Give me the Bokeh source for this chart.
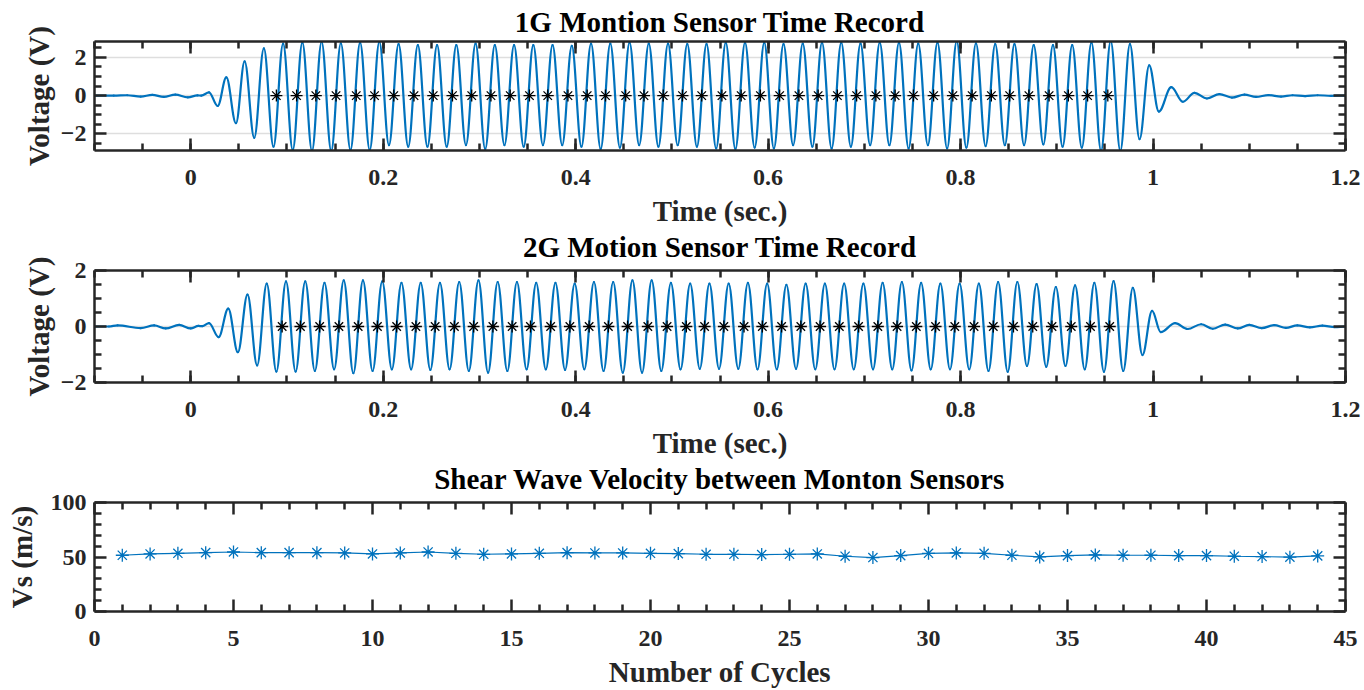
import numpy as np
from bokeh.plotting import figure
from bokeh.layouts import column
from bokeh.models import ColumnDataSource, FixedTicker, LinearAxis, Range1d, Title
from bokeh.embed import file_html
from bokeh.resources import INLINE

# ------------------------------------------------------------------ data
title_1 = "1G Montion Sensor Time Record"
title_2 = "2G Motion Sensor Time Record"
title_3 = "Shear Wave Velocity between Monton Sensors"
time_label = "Time (sec.)"
volt_label = "Voltage (V)"
cycles_label = "Number of Cycles"
vs_label = "Vs (m/s)"

time_ticks = [0, 0.2, 0.4, 0.6, 0.8, 1, 1.2]
time_tick_labels = ["0", "0.2", "0.4", "0.6", "0.8", "1", "1.2"]
volt1_ticks = [-2, 0, 2]
volt2_ticks = [-2, 0, 2]
cycle_ticks = [0, 5, 10, 15, 20, 25, 30, 35, 40, 45]
vs_ticks = [0, 50, 100]

# Sensor 1 (1G): local extrema of the record (time s, voltage V)
s1_pre_t = [-0.100, -0.080, -0.066, -0.052, -0.040, -0.028, -0.016, -0.003, 0.007, 0.011,
            0.019, 0.028, 0.037, 0.047, 0.056, 0.066, 0.076, 0.086]
s1_pre_v = [0.00, 0.00, 0.02, -0.05, 0.04, -0.07, 0.05, -0.09, 0.01, 0.00,
            0.17, -0.54, 0.95, -1.44, 1.78, -2.20, 2.46, -2.66]
s1_peak_t = [0.096, 0.116, 0.136, 0.156, 0.176, 0.196, 0.216, 0.236, 0.256, 0.276,
             0.296, 0.316, 0.336, 0.356, 0.376, 0.396, 0.416, 0.436, 0.456, 0.476,
             0.496, 0.516, 0.536, 0.556, 0.576, 0.596, 0.616, 0.636, 0.656, 0.676,
             0.696, 0.716, 0.736, 0.756, 0.776, 0.796, 0.816, 0.836, 0.856, 0.876,
             0.896, 0.916, 0.936, 0.956, 0.976]
s1_peak_v = [2.71, 2.76, 2.80, 2.73, 2.76, 2.80, 2.68, 2.63, 2.63, 2.63,
             2.71, 2.63, 2.63, 2.63, 2.63, 2.59, 2.71, 2.71, 2.76, 2.71,
             2.71, 2.68, 2.68, 2.76, 2.76, 2.76, 2.68, 2.71, 2.76, 2.76,
             2.71, 2.76, 2.76, 2.71, 2.76, 2.84, 2.73, 2.68, 2.68, 2.63,
             2.63, 2.63, 2.76, 2.85, 2.68]
s1_trough_t = [0.106, 0.126, 0.146, 0.166, 0.186, 0.206, 0.226, 0.246, 0.266, 0.286,
               0.306, 0.326, 0.346, 0.366, 0.386, 0.406, 0.426, 0.446, 0.466, 0.486,
               0.506, 0.526, 0.546, 0.566, 0.586, 0.606, 0.626, 0.646, 0.666, 0.686,
               0.706, 0.726, 0.746, 0.766, 0.786, 0.806, 0.826, 0.846, 0.866, 0.886,
               0.906, 0.926, 0.946, 0.966]
s1_trough_v = [-2.83, -2.88, -2.88, -2.83, -2.83, -2.58, -2.66, -2.66, -2.66, -2.58,
               -2.78, -2.58, -2.66, -2.58, -2.58, -2.66, -2.78, -2.71, -2.58, -2.66,
               -2.58, -2.66, -2.75, -2.78, -2.71, -2.75, -2.58, -2.66, -2.75, -2.66,
               -2.58, -2.58, -2.75, -2.58, -2.75, -2.71, -2.63, -2.58, -2.58, -2.54,
               -2.66, -2.71, -2.88, -2.88]
s1_tail_t = [0.986, 0.996, 1.006, 1.019, 1.031, 1.043, 1.056, 1.069, 1.082, 1.095,
             1.107, 1.120, 1.133, 1.145, 1.158, 1.171, 1.185, 1.200]
s1_tail_v = [-2.27, 1.58, -0.83, 0.44, -0.32, 0.14, -0.15, 0.08, -0.10, 0.05,
             -0.07, 0.03, -0.05, 0.02, -0.03, 0.02, -0.01, 0.00]
s1_star_t = [0.089, 0.110, 0.130, 0.151, 0.172, 0.191, 0.211, 0.232, 0.252, 0.272,
             0.292, 0.312, 0.332, 0.352, 0.371, 0.392, 0.412, 0.431, 0.452, 0.471,
             0.491, 0.511, 0.531, 0.552, 0.572, 0.592, 0.612, 0.632, 0.652, 0.672,
             0.692, 0.712, 0.732, 0.751, 0.772, 0.792, 0.812, 0.832, 0.851, 0.871,
             0.892, 0.912, 0.932, 0.953]

# Sensor 2 (2G)
s2_pre_t = [-0.100, -0.085, -0.076, -0.052, -0.038, -0.026, -0.012, 0.000, 0.008, 0.012,
            0.019, 0.029, 0.039, 0.049, 0.059, 0.069, 0.079, 0.089]
s2_pre_v = [0.00, 0.00, 0.04, -0.06, 0.04, -0.07, 0.06, -0.07, 0.02, 0.01,
            0.12, -0.38, 0.64, -0.92, 1.14, -1.39, 1.53, -1.61]
s2_peak_t = [0.099, 0.119, 0.139, 0.159, 0.179, 0.199, 0.219, 0.239, 0.259, 0.279,
             0.299, 0.319, 0.339, 0.359, 0.379, 0.399, 0.419, 0.439, 0.459, 0.479,
             0.499, 0.519, 0.539, 0.559, 0.579, 0.599, 0.619, 0.639, 0.659, 0.679,
             0.699, 0.719, 0.739, 0.759, 0.779, 0.799, 0.819, 0.839, 0.859, 0.879,
             0.899, 0.919, 0.939, 0.959, 0.979]
s2_peak_v = [1.61, 1.61, 1.56, 1.65, 1.65, 1.61, 1.56, 1.56, 1.56, 1.59,
             1.65, 1.59, 1.59, 1.56, 1.56, 1.53, 1.59, 1.59, 1.65, 1.65,
             1.56, 1.53, 1.53, 1.53, 1.56, 1.53, 1.49, 1.53, 1.53, 1.53,
             1.53, 1.56, 1.59, 1.56, 1.53, 1.53, 1.53, 1.59, 1.59, 1.51,
             1.41, 1.47, 1.56, 1.62, 1.38]
s2_trough_t = [0.109, 0.129, 0.149, 0.169, 0.189, 0.209, 0.229, 0.249, 0.269, 0.289,
               0.309, 0.329, 0.349, 0.369, 0.389, 0.409, 0.429, 0.449, 0.469, 0.489,
               0.509, 0.529, 0.549, 0.569, 0.589, 0.609, 0.629, 0.649, 0.669, 0.689,
               0.709, 0.729, 0.749, 0.769, 0.789, 0.809, 0.829, 0.849, 0.869, 0.889,
               0.909, 0.929, 0.949, 0.969]
s2_trough_v = [-1.61, -1.59, -1.53, -1.67, -1.59, -1.53, -1.53, -1.55, -1.53, -1.59,
               -1.65, -1.59, -1.53, -1.53, -1.55, -1.53, -1.59, -1.65, -1.65, -1.59,
               -1.53, -1.51, -1.51, -1.51, -1.53, -1.53, -1.51, -1.53, -1.53, -1.53,
               -1.53, -1.53, -1.57, -1.53, -1.53, -1.53, -1.59, -1.62, -1.41, -1.44,
               -1.41, -1.53, -1.62, -1.59]
s2_tail_t = [0.989, 0.999, 1.008, 1.023, 1.036, 1.050, 1.062, 1.075, 1.088, 1.100,
             1.113, 1.126, 1.138, 1.150, 1.163, 1.176, 1.189, 1.200]
s2_tail_v = [-1.02, 0.56, -0.20, 0.12, -0.09, 0.08, -0.08, 0.07, -0.07, 0.06,
             -0.06, 0.05, -0.05, 0.04, -0.03, 0.03, -0.02, 0.00]
s2_star_t = [0.095, 0.114, 0.134, 0.154, 0.174, 0.194, 0.214, 0.234, 0.254, 0.274,
             0.294, 0.314, 0.334, 0.353, 0.374, 0.394, 0.414, 0.434, 0.454, 0.475,
             0.495, 0.515, 0.534, 0.554, 0.575, 0.594, 0.614, 0.634, 0.654, 0.674,
             0.694, 0.714, 0.734, 0.754, 0.774, 0.794, 0.814, 0.834, 0.855, 0.875,
             0.895, 0.915, 0.935, 0.955]

# Shear wave velocity per cycle
cycles = list(range(1, 45))
vs_values = [51.6, 52.8, 53.4, 54.0, 54.6, 54.0, 54.0, 54.0, 53.7, 52.8,
             53.7, 54.6, 53.4, 52.5, 52.8, 53.4, 54.0, 53.7, 53.7, 53.4,
             53.1, 52.5, 52.5, 52.2, 52.5, 52.8, 50.7, 49.5, 51.3, 53.4,
             53.7, 53.4, 51.6, 50.1, 51.3, 51.9, 51.6, 51.6, 51.3, 51.3,
             50.7, 50.4, 49.8, 51.0]

# ------------------------------------------------------------------ style
FONT = "Liberation Serif"
AX = "#262626"
BLUE = "#0072BD"
GRID = "#dedede"
K = 1.0 - 2.0 / np.pi   # bezier handle fraction that follows a half cosine
W = 1364
BL, BR = 94, 19
OVERLAP = 16            # later plots slide up over the previous plot's blank border


def style_title(t, standoff, valign):
    t.text_font = FONT
    t.text_font_size = "29px"
    t.text_font_style = "bold"
    t.text_color = "black"
    t.align = "center"
    t.vertical_align = valign
    t.standoff = standoff


def style_axis(ax, ticker, labels=True, overrides=None, standoff=8,
               label=None, label_standoff=8):
    ax.ticker = ticker
    ax.axis_line_color = AX
    ax.axis_line_width = 2.5
    ax.major_tick_line_color = AX
    ax.major_tick_line_width = 2.5
    ax.minor_tick_line_color = AX
    ax.minor_tick_line_width = 2.5
    ax.major_tick_in = 12
    ax.major_tick_out = 0
    ax.minor_tick_in = 7
    ax.minor_tick_out = 0
    ax.major_label_standoff = standoff
    if labels:
        ax.major_label_text_font = FONT
        ax.major_label_text_font_style = "bold"
        ax.major_label_text_font_size = "24px"
        ax.major_label_text_color = AX
        if overrides:
            ax.major_label_overrides = overrides
    else:
        ax.major_label_text_font_size = "0px"
        ax.major_label_text_color = None
        ax.major_label_standoff = 0
    if label:
        ax.axis_label = label
        ax.axis_label_text_font = FONT
        ax.axis_label_text_font_style = "bold"
        ax.axis_label_text_font_size = "29px"
        ax.axis_label_text_color = AX
        ax.axis_label_standoff = label_standoff


def make_fig(height, btop, bbot, xr, yr, xt, xminor, yt, yminor,
             xlabel, ylabel, xover, ygrid, xlabel_standoff, ylabel_standoff):
    p = figure(width=W, height=height, x_range=Range1d(*xr), y_range=Range1d(*yr),
               output_backend="svg", toolbar_location=None, title=None,
               min_border_left=BL, min_border_right=BR,
               min_border_top=btop, min_border_bottom=bbot)
    p.outline_line_color = None
    p.background_fill_color = "white"
    p.border_fill_color = "white"
    xtick = FixedTicker(ticks=xt, minor_ticks=xminor)
    ytick = FixedTicker(ticks=yt, minor_ticks=yminor)
    style_axis(p.xaxis[0], xtick, True, xover, 19, xlabel, xlabel_standoff)
    style_axis(p.yaxis[0], ytick, True, None, 8, ylabel, ylabel_standoff)
    top = LinearAxis()
    style_axis(top, FixedTicker(ticks=xt, minor_ticks=xminor), labels=False)
    right = LinearAxis()
    style_axis(right, FixedTicker(ticks=yt, minor_ticks=yminor), labels=False)
    p.add_layout(top, "above")
    p.add_layout(right, "right")
    p.xgrid.visible = False
    if ygrid:
        p.ygrid.ticker = FixedTicker(ticks=yt)
        p.ygrid.grid_line_color = GRID
        p.ygrid.grid_line_width = 1.5
    else:
        p.ygrid.visible = False
    return p


def add_wave(p, parts_t, parts_v):
    t = np.concatenate([np.asarray(a, float) for a in parts_t])
    v = np.concatenate([np.asarray(a, float) for a in parts_v])
    o = np.argsort(t, kind="stable")
    t, v = t[o], v[o]
    dt = np.diff(t)
    src = ColumnDataSource(dict(
        x0=t[:-1], y0=v[:-1], x1=t[1:], y1=v[1:],
        cx0=t[:-1] + K * dt, cy0=v[:-1], cx1=t[1:] - K * dt, cy1=v[1:]))
    p.bezier(x0="x0", y0="y0", x1="x1", y1="y1", cx0="cx0", cy0="cy0",
             cx1="cx1", cy1="cy1", source=src, line_color=BLUE,
             line_width=2.2, line_cap="round")


def add_below_title(p, text):
    t = Title(text=text)
    style_title(t, 3, "top")
    p.add_layout(t, "below")


def overlap_previous(p):
    p.border_fill_color = None
    p.margin = (-OVERLAP, 0, 0, 0)


time_over = {t: s for t, s in zip(time_ticks, time_tick_labels)}
time_minor = [round(x, 2) for x in np.arange(-0.1, 1.2001, 0.05)]

# ---- figure 1 (carries the title of figure 2 underneath its x label)
p1 = make_fig(266, 41, 114, (-0.1, 1.2), (-2.86, 2.82), time_ticks, time_minor,
              volt1_ticks, [-2.5, -1.5, -1, -0.5, 0.5, 1, 1.5, 2.5],
              time_label, volt_label, time_over, True, 7, 3)
t1 = Title(text=title_1)
style_title(t1, 7, "bottom")
p1.add_layout(t1, "above")
add_wave(p1, [s1_pre_t, s1_peak_t, s1_trough_t, s1_tail_t],
         [s1_pre_v, s1_peak_v, s1_trough_v, s1_tail_v])
p1.scatter(s1_star_t, [0] * len(s1_star_t), marker="asterisk", size=12,
           line_color="black", line_width=1.3)
add_below_title(p1, title_2)

# ---- figure 2 (carries the title of figure 3)
p2 = make_fig(232 + OVERLAP, 4 + OVERLAP, 115, (-0.1, 1.2), (-2, 2), time_ticks, time_minor,
              volt2_ticks, [-1.5, -1, -0.5, 0.5, 1, 1.5],
              time_label, volt_label, time_over, True, 7, 3)
overlap_previous(p2)
add_wave(p2, [s2_pre_t, s2_peak_t, s2_trough_t, s2_tail_t],
         [s2_pre_v, s2_peak_v, s2_trough_v, s2_tail_v])
p2.scatter(s2_star_t, [0] * len(s2_star_t), marker="asterisk", size=12,
           line_color="black", line_width=1.3)
add_below_title(p2, title_3)

# ---- figure 3
p3 = make_fig(192 + OVERLAP, 4 + OVERLAP, 77, (0, 45), (0, 100), cycle_ticks,
              [x for x in range(0, 46) if x % 5],
              vs_ticks, [x for x in range(0, 101, 10) if x % 50],
              cycles_label, vs_label, None, False, 7, 10)
overlap_previous(p3)
p3.line(cycles, vs_values, line_color=BLUE, line_width=1.2)
p3.scatter(cycles, vs_values, marker="asterisk", size=13, line_color=BLUE,
           line_width=1.3)

layout = column(p1, p2, p3, spacing=0)
open("out.html", "w").write(file_html(layout, INLINE))
